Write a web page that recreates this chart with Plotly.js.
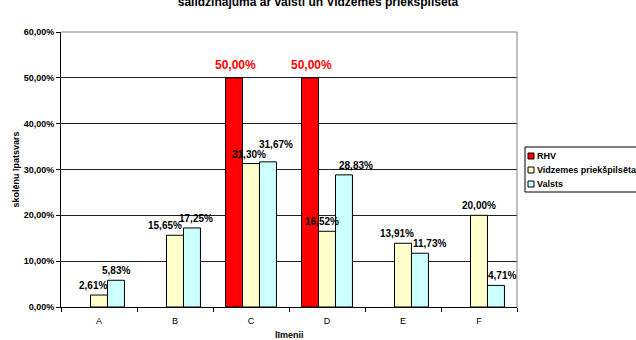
<!DOCTYPE html>
<html>
<head>
<meta charset="utf-8">
<script src="https://cdn.plot.ly/plotly-3.0.1.min.js"></script>
<style>html,body{margin:0;padding:0;background:#fff}#chart{width:636px;height:340px}</style>
</head>
<body>
<div id="chart"></div>
<script>
const categories = ['A', 'B', 'C', 'D', 'E', 'F'];
const rhv = [null, null, 50.00, 50.00, null, null];
const vidzemes = [2.61, 15.65, 31.30, 16.52, 13.91, 20.00];
const valsts = [5.83, 17.25, 31.67, 28.83, 11.73, 4.71];
const seriesNames = ['RHV', 'Vidzemes priekšpilsēta', 'Valsts'];
const titleText = 'salīdzinājumā ar valsti un Vidzemes priekšpilsētā';
const xTitle = 'līmenii';
const yTitle = 'skolēnu īpatsvars';

// label placement nudges (pixels), as in the original chart
const labelDx = [[1, 1, 1, 1, 1, 1], [-6, -10, -2, -5, -6, 0], [0, 4, 8, 12, 10, 6]];
const labelDy = [[0, 0, 0, 0, 0, 0], [0, 0, 0, 0, 0, 0], [0, 0, 8, 0, 0, 0]];

const FONT = 'Liberation Sans, Arial, sans-serif';
const colors = ['#FF0000', '#FFFFCC', '#CCFFFF'];
const textColors = ['#FF0000', '#000', '#000'];
const textSizes = [12, 10, 10];
const series = [rhv, vidzemes, valsts];

const M = {l: 61, r: 119, t: 32, b: 33};
const W = 636, H = 340;
const PW = W - M.l - M.r, PH = H - M.t - M.b;
const px2x = p => (p - M.l) / PW;
const py2y = p => (H - M.b - p) / PH;

const data = series.map((y, i) => ({
  type: 'bar', name: seriesNames[i], x: categories, y: y,
  marker: {color: colors[i], line: {color: '#000', width: 1}},
  hoverinfo: 'skip', showlegend: false
}));

const barW = PW / categories.length * (1 - 0.33) / 3;
const annotations = [];
series.forEach((vals, s) => {
  vals.forEach((v, k) => {
    if (v === null) return;
    annotations.push({
      x: categories[k], y: v, xref: 'x', yref: 'y',
      text: '<b>' + v.toFixed(2).replace('.', ',') + '%</b>',
      showarrow: false, yanchor: 'bottom', xanchor: 'center',
      xshift: (s - 1) * barW + labelDx[s][k],
      yshift: (s === 0 ? 5 : 3) + labelDy[s][k],
      borderpad: 0,
      font: {family: FONT, size: textSizes[s], color: textColors[s]}
    });
  });
});

// axis titles
annotations.push({xref: 'paper', yref: 'paper', x: px2x(15), y: 0.5, textangle: -90,
  xanchor: 'center', yanchor: 'middle', showarrow: false, borderpad: 0,
  text: '<b>' + yTitle + '</b>', font: {family: FONT, size: 9, color: '#000'}});
annotations.push({xref: 'paper', yref: 'paper', x: 0.5, y: py2y(335),
  xanchor: 'center', yanchor: 'middle', showarrow: false, borderpad: 0,
  text: '<b>' + xTitle + '</b>', font: {family: FONT, size: 9, color: '#000'}});

// legend drawn as in the original (small swatches)
const legTop = 147, legBottom = 192, legLeft = 525, legRows = [156, 170, 184];
const shapes = [
  {type: 'line', xref: 'paper', yref: 'paper', x0: 0, x1: 1, y0: 1, y1: 1, line: {color: '#808080', width: 1}, layer: 'above'},
  {type: 'line', xref: 'paper', yref: 'paper', x0: 1, x1: 1, y0: 0, y1: 1, line: {color: '#808080', width: 1}, layer: 'above'},
  {type: 'rect', xref: 'paper', yref: 'paper', x0: px2x(legLeft), x1: px2x(W + 5), y0: py2y(legBottom), y1: py2y(legTop),
   line: {color: '#000', width: 1}, fillcolor: '#fff', layer: 'above'}
];
seriesNames.forEach((n, i) => {
  const cy = legRows[i];
  shapes.push({type: 'rect', xref: 'paper', yref: 'paper',
    x0: px2x(528), x1: px2x(534), y0: py2y(cy + 3), y1: py2y(cy - 3),
    line: {color: '#000', width: 1}, fillcolor: colors[i], layer: 'above'});
  annotations.push({xref: 'paper', yref: 'paper', x: px2x(536), y: py2y(cy),
    xanchor: 'left', yanchor: 'middle', showarrow: false, borderpad: 0,
    text: '<b>' + n + '</b>', font: {family: FONT, size: 9, color: '#000'}});
});

const layout = {
  width: W, height: H,
  margin: {l: M.l, r: M.r, t: M.t, b: M.b, autoexpand: false},
  separators: ', ',
  paper_bgcolor: '#fff', plot_bgcolor: '#fff',
  font: {family: FONT, size: 9, color: '#000'},
  title: {
    text: '<b>' + titleText + '</b>',
    font: {family: FONT, size: 12, color: '#000'},
    x: 0.5, xref: 'container', y: 0.994, yref: 'container', yanchor: 'middle'
  },
  barmode: 'group', bargap: 0.33, bargroupgap: 0,
  showlegend: false,
  xaxis: {
    type: 'category',
    showline: true, linecolor: '#000', linewidth: 1,
    ticks: 'outside', tickson: 'boundaries', ticklen: 4, tickcolor: '#000',
    ticklabelstandoff: 5,
    tickfont: {family: FONT, size: 9, color: '#000'},
    showgrid: false
  },
  yaxis: {
    range: [0, 60], dtick: 10, tickformat: '.2f', ticksuffix: '%',
    showline: true, linecolor: '#000', linewidth: 1,
    ticks: 'outside', ticklen: 4, tickcolor: '#000',
    tickfont: {family: FONT, size: 9, color: '#000', weight: 'bold'},
    showgrid: true, gridcolor: '#222', gridwidth: 1,
    zeroline: false
  },
  shapes: shapes,
  annotations: annotations
};

Plotly.newPlot('chart', data, layout, {staticPlot: true, displayModeBar: false});
</script>
</body>
</html>
